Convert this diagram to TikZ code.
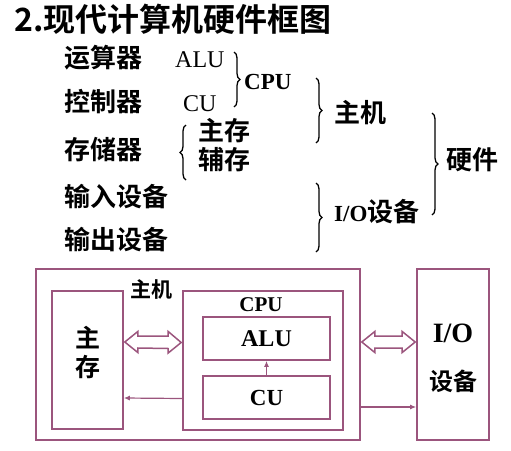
\documentclass[tikz,border=0pt]{standalone}
\usepackage{fontspec}
\setmainfont{Liberation Serif}
\newfontfamily\cjk{Noto Sans CJK SC}[BoldFont={Noto Sans CJK SC Bold}]
\usetikzlibrary{arrows.meta,decorations.pathreplacing,calc}
\definecolor{boxcol}{RGB}{155,85,125}
\tikzset{
  zh/.style={font=\cjk\bfseries\fontsize{26}{28}\selectfont},
  zhsmall/.style={font=\cjk\bfseries\fontsize{21}{23}\selectfont},
  lat/.style={font=\fontsize{24}{26}\selectfont},
  latbf/.style={font=\bfseries\fontsize{23}{25}\selectfont},
  brc/.style={decorate,decoration={brace,amplitude=6pt},line width=1.3pt},
  blk/.style={draw=boxcol,line width=1.6pt},
  sgl/.style={draw=boxcol,line width=1.2pt,-{Latex[length=6pt,width=5pt]}}
}
% hollow double arrow between two points
\newcommand{\dblarrow}[2]{%
  \draw[boxcol,line width=1.5pt,line join=miter] let \p1=#1, \p2=#2 in
    (\x1,\y1) -- ++(13pt,10.5pt) -- ++(0,-4.5pt) -- (\x2-13pt,\y1+6pt) -- ++(0,4.5pt)
    -- (\x2,\y2) -- ++(-13pt,-10.5pt) -- ++(0,4.5pt) -- (\x1+13pt,\y1-6pt) -- ++(0,-4.5pt) -- cycle;}
\begin{document}
\begin{tikzpicture}[x=1pt,y=-1pt,inner sep=0pt]
  \useasboundingbox (0,0) rectangle (511,450);
  % the title
  \node[font=\cjk\bfseries\fontsize{32}{34}\selectfont,anchor=west] (title) at (14,19) {2.现代计算机硬件框图};
  %% the list
  \foreach \t/\y [count=\i] in {运算器/58,控制器/102,存储器/150,输入设备/197,输出设备/240}
    \node[zh,anchor=west] (r\i) at (64,\y) {\t};
  \node[lat,anchor=west] (alu) at (175,60) {ALU};
  \node[lat,anchor=west] (cu) at (183,104) {CU};
  \node[latbf,anchor=west] (cpu) at (244,82) {CPU};
  \node[zh,anchor=west] (zc) at (198,131) {主存};
  \node[zh,anchor=west] (fc) at (198,160) {辅存};
  \node[zh,anchor=west] (zj) at (334,113) {主机};
  \node[latbf,anchor=west] (io) at (334,212) {I/O{\cjk\fontsize{26}{28}\selectfont 设备}};
  \node[zh,anchor=west] (yj) at (446,160) {硬件};
  % braces
  \draw[brc] (234,52) -- (234,107);
  \draw[brc] (186,180) -- (186,125);
  \draw[brc] (316,78) -- (316,143);
  \draw[brc] (316,183) -- (316,252);
  \draw[brc] (432,113) -- (432,215);
  %% the boxes
  \node[blk,minimum width=324pt,minimum height=171pt] (host) at (198,354.5) {};
  \node[blk,minimum width=71pt,minimum height=138pt] (mem) at (87.5,360) {};
  \node[blk,minimum width=160pt,minimum height=139pt] (cpubox) at (263,360.5) {};
  \node[blk,minimum width=127pt,minimum height=43pt] (alubox) at (266.5,338.5) {};
  \node[blk,minimum width=127pt,minimum height=43pt] (cubox) at (266.5,397.5) {};
  \node[blk,minimum width=72pt,minimum height=171pt] (iobox) at (453,354.5) {};
  % texts in the boxes
  \node[zhsmall] (hostlbl) at (151,289) {主机};
  \node[font=\bfseries\fontsize{21}{23}\selectfont] (cpulbl) at (261,305) {CPU};
  \node[font=\bfseries\fontsize{24}{26}\selectfont] (alulbl) at (alubox) {ALU};
  \node[font=\bfseries\fontsize{23}{25}\selectfont] (culbl) at (cubox) {CU};
  \node[align=center,font=\cjk\bfseries\fontsize{25}{29}\selectfont] (memlbl) at (87.5,352) {主\\存};
  \node[font=\bfseries\fontsize{28}{30}\selectfont] (iolbl) at (453,333) {I/O};
  \node[font=\cjk\bfseries\fontsize{24}{26}\selectfont] (devlbl) at (453,381) {设备};
  % connectors
  \dblarrow{([xshift=1pt,yshift=18pt]mem.east)}{([xshift=-1pt,yshift=18pt]cpubox.west)}
  \draw[sgl] ([yshift=-38pt]cpubox.west) -- ([yshift=-38pt]mem.east);
  \draw[sgl] (cubox.north) -- (alubox.south);
  \dblarrow{([xshift=1pt,yshift=12.5pt]host.east)}{([xshift=-1pt,yshift=12.5pt]iobox.west)}
  \draw[sgl] ([yshift=-52.5pt]host.east) -- ([yshift=-52.5pt]iobox.west);
\end{tikzpicture}
\end{document}
